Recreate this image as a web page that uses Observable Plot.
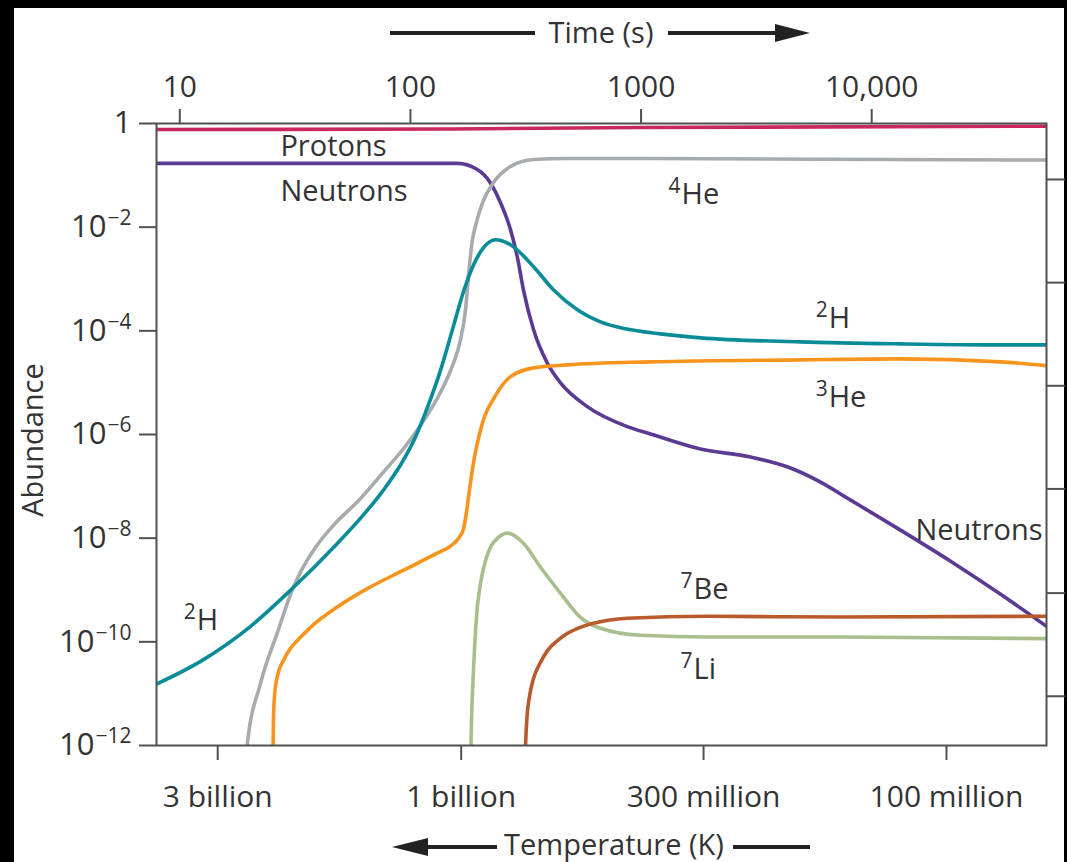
<!DOCTYPE html>
<html><head><meta charset="utf-8">
<script src="https://cdn.jsdelivr.net/npm/d3@7"></script>
<script src="https://cdn.jsdelivr.net/npm/@observablehq/plot@0.6"></script>
<style>
html,body{margin:0;padding:0;background:#000;width:1067px;height:862px;overflow:hidden;}
#wrap{position:absolute;left:14px;top:8px;width:1050px;height:854px;background:#fff;}
svg{display:block;}
</style></head><body><div id="wrap"></div>
<script>
// ---- tick data ----
const timeTicks = [10, 100, 1000, 10000];
const timeTickLabels = ["10", "100", "1000", "10,000"];
// temperature ticks, positioned at the equivalent time (s)
const tempTickTimes = [14.6, 166, 1866, 21100];
const tempTickLabels = ["3 billion", "1 billion", "300 million", "100 million"];
const yTickExps = [0, -2, -4, -6, -8, -10, -12];
const rightTickExps = [-1.08, -3.07, -5.06, -7.05, -9.06, -11.05];

// ---- series: [log10 time (s), log10 abundance] ----
const protons = [[0.899,-0.116],[2.174,-0.106],[2.998,-0.077],[4.758,-0.052]];
const neutrons = [[0.899,-0.77],[2.203,-0.77],[2.290,-0.889],[2.347,-1.146],[2.391,-1.532],[2.434,-2.048],[2.463,-2.564],[2.490,-3.208],[2.534,-3.981],[2.593,-4.618],[2.651,-5.005],[2.767,-5.463],[2.940,-5.849],[3.041,-5.990],[3.258,-6.280],[3.475,-6.435],[3.648,-6.647],[3.778,-6.918],[3.909,-7.266],[4.125,-7.845],[4.342,-8.444],[4.559,-9.082],[4.758,-9.700]];
const helium4 = [[1.285,-12.3],[1.292,-12.0],[1.350,-10.802],[1.422,-9.836],[1.493,-8.941],[1.523,-8.657],[1.589,-8.174],[1.675,-7.710],[1.769,-7.304],[1.883,-6.725],[1.979,-6.222],[2.065,-5.681],[2.131,-5.179],[2.182,-4.676],[2.217,-4.174],[2.239,-3.594],[2.252,-2.918],[2.269,-2.242],[2.287,-1.894],[2.313,-1.527],[2.360,-1.140],[2.434,-0.831],[2.534,-0.696],[2.681,-0.676],[3.041,-0.676],[4.758,-0.705]];
const deuterium = [[0.899,-10.815],[1.090,-10.377],[1.307,-9.700],[1.480,-9.005],[1.680,-8.116],[1.784,-7.614],[1.883,-7.072],[1.957,-6.589],[2.022,-6.048],[2.078,-5.430],[2.131,-4.754],[2.182,-3.981],[2.230,-3.246],[2.274,-2.725],[2.317,-2.396],[2.369,-2.242],[2.434,-2.338],[2.534,-2.763],[2.620,-3.208],[2.724,-3.594],[2.824,-3.826],[2.933,-3.961],[3.084,-4.058],[3.258,-4.135],[3.692,-4.213],[4.125,-4.251],[4.559,-4.271],[4.758,-4.271]];
const helium3 = [[1.404,-12.29],[1.406,-11.517],[1.411,-11.034],[1.424,-10.647],[1.450,-10.357],[1.480,-10.126],[1.523,-9.913],[1.567,-9.720],[1.683,-9.327],[1.827,-8.941],[1.970,-8.618],[2.116,-8.290],[2.174,-8.155],[2.209,-8.000],[2.230,-7.826],[2.243,-7.498],[2.256,-7.072],[2.274,-6.531],[2.304,-5.913],[2.376,-5.198],[2.434,-4.883],[2.534,-4.715],[2.681,-4.657],[3.041,-4.599],[3.692,-4.560],[4.125,-4.541],[4.559,-4.599],[4.758,-4.671]];
const lithium7 = [[2.261,-12.29],[2.265,-11.498],[2.274,-10.493],[2.287,-9.488],[2.304,-8.870],[2.326,-8.425],[2.347,-8.174],[2.378,-8.000],[2.420,-7.903],[2.490,-8.097],[2.564,-8.560],[2.651,-9.063],[2.737,-9.527],[2.824,-9.739],[2.998,-9.874],[3.287,-9.907],[3.865,-9.907],[4.758,-9.938]];
const beryllium7 = [[2.497,-12.29],[2.499,-12.0],[2.506,-11.42],[2.517,-11.034],[2.534,-10.705],[2.564,-10.396],[2.595,-10.164],[2.634,-9.990],[2.681,-9.836],[2.737,-9.720],[2.794,-9.643],[2.940,-9.546],[3.287,-9.507],[3.865,-9.521],[4.758,-9.507]];

const seriesNames = ["Protons", "Neutrons", "4He", "2H", "3He", "7Li", "7Be"];
const seriesData = [protons, neutrons, helium4, deuterium, helium3, lithium7, beryllium7];
const seriesColors = ["#c8285c", "#5b3a93", "#a8abae", "#0a8b98", "#f7941d", "#a8bf8d", "#b85a2c"];

// ---- in-chart labels ----
const labelTexts = ["Protons", "Neutrons", "^4He", "^2H", "^3He", "Neutrons", "^7Be", "^7Li", "^2H"];
const labelTimes = [27.3, 27.3, 1315, 5715, 5715, 55100, 1483, 1483, 10.4];
const labelValues = [0.36, 0.0492, 0.0425, 1.745e-4, 5.19e-6, 1.40e-8, 1.03e-9, 2.88e-11, 2.6e-10];
const labelAnchors = ["start", "start", "start", "start", "start", "end", "start", "start", "start"];

const labels = labelTexts.map((s, i) => ({text: s, t: labelTimes[i], v: labelValues[i], anchor: labelAnchors[i]}));
const series = seriesNames.map((n, i) => ({
  name: n, color: seriesColors[i],
  data: seriesData[i].map(([lt, lv]) => ({t: 10 ** lt, v: 10 ** lv}))
}));

const FONT = "'Open Sans', 'Noto Sans', sans-serif";
const TXT = "#333";

const chart = Plot.plot({
  width: 1050, height: 854,
  marginLeft: 142, marginRight: 18, marginTop: 115, marginBottom: 117,
  x: {type: "log", domain: [10 ** 0.899, 10 ** 4.758]},
  y: {type: "log", domain: [1e-12, 1]},
  style: {fontFamily: FONT, fontSize: "30px", color: TXT, background: "#fff", overflow: "visible"},
  marks: [
    ...series.map(s => Plot.line(s.data, {x: "t", y: "v", stroke: s.color, strokeWidth: 3.6, curve: "monotone-x", clip: true})),
    Plot.text(labels.filter(d => d.anchor === "start"), {x: "t", y: "v", text: "text", textAnchor: "start", fontSize: 29, fill: TXT}),
    Plot.text(labels.filter(d => d.anchor === "end"), {x: "t", y: "v", text: "text", textAnchor: "end", fontSize: 29, fill: TXT}),
    Plot.frame({stroke: "#505050", strokeWidth: 2}),
    Plot.axisX({anchor: "top", ticks: timeTicks, tickSize: 15, tickPadding: 12, strokeWidth: 2, stroke: "#505050",
      tickFormat: d => timeTickLabels[timeTicks.indexOf(d)], label: null, fontSize: 30}),
    Plot.axisX({anchor: "bottom", ticks: tempTickTimes, tickSize: 15, tickPadding: 25, strokeWidth: 2, stroke: "#505050",
      tickFormat: d => tempTickLabels[tempTickTimes.indexOf(d)], label: null, fontSize: 30}),
    Plot.axisY({anchor: "left", ticks: yTickExps.map(e => 10 ** e), tickSize: 17, tickPadding: 8, strokeWidth: 2, stroke: "#505050",
      tickFormat: d => { const e = Math.round(Math.log10(d)); return e === 0 ? "1" : "10^" + e; }, label: null, fontSize: 31}),
    Plot.axisY({anchor: "right", ticks: rightTickExps.map(e => 10 ** e), tickSize: 18, strokeWidth: 2, stroke: "#505050",
      tickFormat: () => "", label: null})
  ]
});
document.getElementById("wrap").appendChild(chart);

const svg = d3.select(chart);
// superscripts: "^4He" -> raised 4 + He ; "10^-2" -> 10 + raised −2
function rich(el, supSize, shift) {
  const s = el.textContent;
  const pre = s.match(/^\^(\d+)(.*)$/);
  const post = s.match(/^(.*)\^(-?\d+)$/);
  const sel = d3.select(el);
  if (pre) {
    sel.text("");
    sel.append("tspan").attr("font-size", supSize).attr("dy", -shift).text(pre[1]);
    sel.append("tspan").attr("dy", shift).attr("dx", 1).text(pre[2]);
  } else if (post) {
    sel.text("");
    sel.append("tspan").text(post[1]);
    sel.append("tspan").attr("font-size", supSize).attr("dy", -shift).attr("dx", 1).text(post[2].replace("-", "\u2212"));
  }
}
svg.selectAll("text").each(function() {
  if (!this.textContent.includes("^")) return;
  if (this.textContent.startsWith("^")) rich(this, 21, 11);
  else rich(this, 21, 12);
});

// axis titles with arrows (page coords offset by wrapper 14,8)
const ox = 14, oy = 8;
const g = svg.append("g").attr("fill", "#222").attr("stroke", "#222");
function hline(x1, x2, y) { g.append("line").attr("x1", x1 - ox).attr("x2", x2 - ox).attr("y1", y - oy).attr("y2", y - oy).attr("stroke-width", 4); }
function head(tipX, baseX, y) { g.append("path").attr("stroke", "none").attr("d", `M${tipX - ox},${y - oy}L${baseX - ox},${y - oy - 9}L${baseX - ox},${y - oy + 9}Z`); }
function label(txt, x, y, rot) {
  const t = svg.append("text").attr("fill", TXT).attr("font-family", FONT).attr("font-size", 29)
    .attr("text-anchor", "middle").attr("dy", "0.35em").text(txt);
  if (rot) t.attr("transform", `translate(${x - ox},${y - oy}) rotate(-90)`);
  else t.attr("x", x - ox).attr("y", y - oy);
}
hline(390, 535, 33); label("Time (s)", 601, 33); hline(668, 780, 33); head(810, 775, 33);
head(392, 428, 847); hline(425, 497, 847); label("Temperature (K)", 614, 845); hline(733, 810, 847);
label("Abundance", 33, 440, true);
</script></body></html>
